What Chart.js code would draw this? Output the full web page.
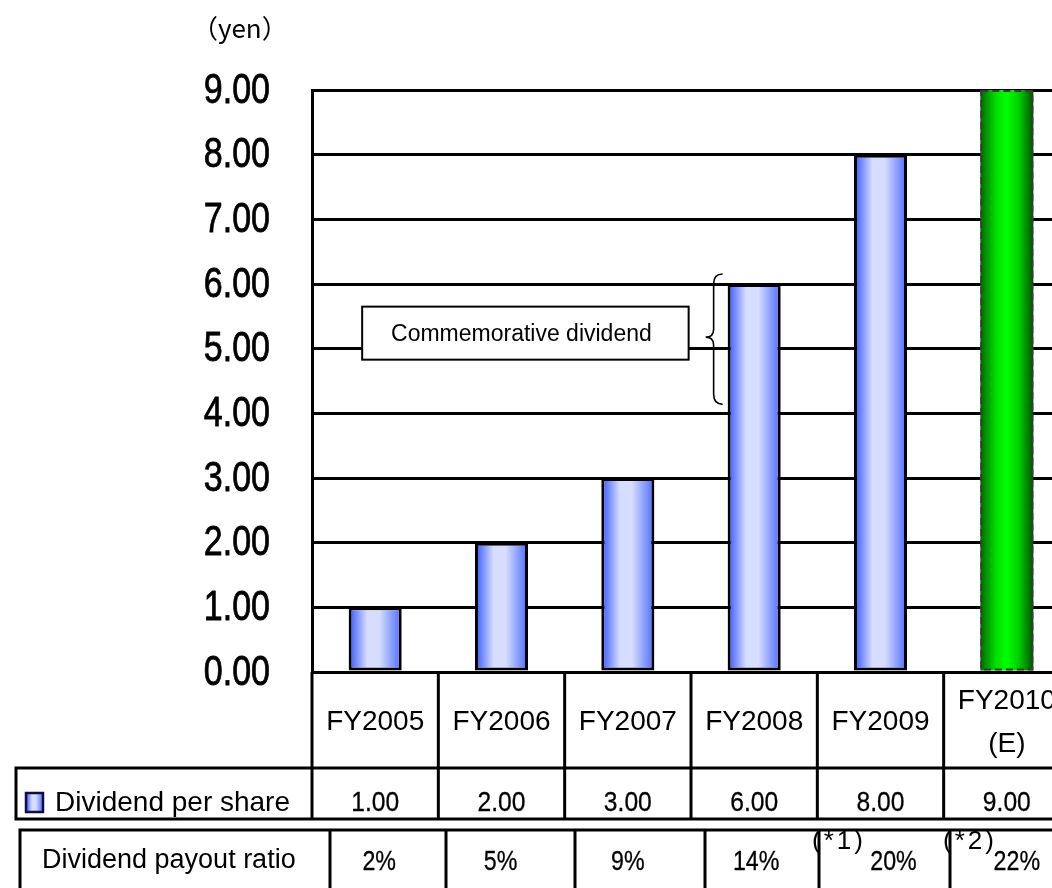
<!DOCTYPE html>
<html>
<head>
<meta charset="utf-8">
<script src="https://cdn.jsdelivr.net/npm/chart.js@4.4.1/dist/chart.umd.min.js"></script>
<style>
  html, body { margin: 0; padding: 0; background: #fff; overflow: hidden; }
  #wrap { position: absolute; left: 0; top: 0; width: 1070px; height: 888px; }
</style>
</head>
<body>
<div id="wrap"><canvas id="c" width="1070" height="888"></canvas></div>
<script>
// Fiscal years shown on the category axis
const categories = ['FY2005', 'FY2006', 'FY2007', 'FY2008', 'FY2009', ['FY2010', '(E)']];
// Dividend per share (yen)
const dividendPerShare = [1.00, 2.00, 3.00, 6.00, 8.00, 9.00];
// Dividend payout ratio (%)
const payoutRatio = [2, 5, 9, 14, 20, 22];
const payoutNotes = ['', '', '', '', '(*1)', '(*2)'];
// Forecast years get the green bar
const estimated = [false, false, false, false, false, true];
// Value ticks on the yen axis
const yTickValues = [0, 1, 2, 3, 4, 5, 6, 7, 8, 9];
// Commemorative portion of the FY2008 dividend
const commemorativeIndex = 3;
const commemorativeFrom = 4.0;
const commemorativeTo = 6.0;

const SANS = "'Liberation Sans', Arial, sans-serif";
const BAR_PCT = 0.42;
// column rules of the payout ratio table
const payoutCols = [20, 330, 446, 575, 705, 819, 950, 1070];
const payoutTextShift = [4, -1, 0, 2, 13, 10];

// text squeezed horizontally, for the narrow numeral style
function condensedText(ctx, text, x, y, size, squeeze, align, weight) {
  ctx.save();
  ctx.translate(x, y);
  ctx.scale(squeeze, 1);
  ctx.font = size + 'px ' + SANS;
  ctx.textAlign = align;
  ctx.textBaseline = 'middle';
  ctx.fillText(text, 0, 0);
  if (weight) {
    ctx.lineWidth = weight;
    ctx.strokeStyle = ctx.fillStyle;
    ctx.strokeText(text, 0, 0);
  }
  ctx.restore();
}

function blueGradient(ctx, x0, x1) {
  const g = ctx.createLinearGradient(x0, 0, x1, 0);
  g.addColorStop(0, '#3354ff');
  g.addColorStop(0.35, '#d6ddff');
  g.addColorStop(0.58, '#d6ddff');
  g.addColorStop(1, '#4c6bff');
  return g;
}
function greenGradient(ctx, x0, x1) {
  const g = ctx.createLinearGradient(x0, 0, x1, 0);
  g.addColorStop(0, '#006a00');
  g.addColorStop(0.3, '#00e000');
  g.addColorStop(0.5, '#00ff00');
  g.addColorStop(0.72, '#00d000');
  g.addColorStop(1, '#005400');
  return g;
}

function barFill(context) {
  const chart = context.chart;
  const xs = chart.scales.x;
  if (!chart.chartArea || !xs) return estimated[context.dataIndex] ? '#00ff00' : '#a0b0ff';
  const cx = xs.getPixelForValue(context.dataIndex);
  const bw = (xs.width / categories.length) * BAR_PCT;
  return estimated[context.dataIndex]
    ? greenGradient(chart.ctx, cx - bw / 2, cx + bw / 2)
    : blueGradient(chart.ctx, cx - bw / 2, cx + bw / 2);
}

const tablePlugin = {
  id: 'dividendTable',
  afterDatasetsDraw(chart) {
    const ctx = chart.ctx;
    const xs = chart.scales.x, ys = chart.scales.y;
    const meta = chart.getDatasetMeta(0);
    ctx.save();
    // dashed outline of the forecast bar
    meta.data.forEach((bar, i) => {
      if (!estimated[i]) return;
      const p = bar.getProps(['x', 'y', 'base', 'width'], true);
      ctx.setLineDash([7, 4]);
      ctx.strokeStyle = '#3a3a3a';
      ctx.lineWidth = 2;
      ctx.strokeRect(p.x - p.width / 2 + 1, p.y + 1, p.width - 2, p.base - p.y - 2);
      ctx.setLineDash([]);
    });

    // commemorative dividend callout
    const bar = meta.data[commemorativeIndex].getProps(['x', 'width'], true);
    const top = ys.getPixelForValue(commemorativeTo) - 10;
    const bottom = ys.getPixelForValue(commemorativeFrom) - 9;
    const mid = (top + bottom) / 2 - 2;
    const bx = bar.x - bar.width / 2 - 5;
    ctx.strokeStyle = '#000';
    ctx.lineWidth = 1.6;
    ctx.beginPath();
    ctx.moveTo(bx, top);
    ctx.quadraticCurveTo(bx - 9, top, bx - 9, top + 10);
    ctx.lineTo(bx - 9, mid - 8);
    ctx.quadraticCurveTo(bx - 9, mid, bx - 17, mid);
    ctx.quadraticCurveTo(bx - 9, mid, bx - 9, mid + 8);
    ctx.lineTo(bx - 9, bottom - 10);
    ctx.quadraticCurveTo(bx - 9, bottom, bx, bottom);
    ctx.stroke();

    const boxL = xs.getPixelForValue(0) - 13;
    const boxR = bx - 34;
    const boxT = ys.getPixelForValue(5.65);
    const boxB = ys.getPixelForValue(4.83);
    ctx.fillStyle = '#fff';
    ctx.fillRect(boxL, boxT, boxR - boxL, boxB - boxT);
    ctx.lineWidth = 2;
    ctx.strokeRect(boxL, boxT, boxR - boxL, boxB - boxT);
    ctx.fillStyle = '#000';
    ctx.font = '23px ' + SANS;
    ctx.textAlign = 'center';
    ctx.textBaseline = 'middle';
    ctx.fillText('Commemorative dividend', (boxL + boxR) / 2 - 4, (boxT + boxB) / 2 + 2);
    ctx.restore();
  },
  afterDraw(chart) {
    const ctx = chart.ctx;
    const xs = chart.scales.x, ys = chart.scales.y;
    const area = chart.chartArea;
    const colW = xs.width / categories.length;
    const rowTop = 768, rowBottom = 819, payTop = 830, H = chart.height;
    ctx.save();
    ctx.fillStyle = '#000';

    // yen axis labels, in the narrow numeral style
    ys.ticks.forEach(t => {
      condensedText(ctx, Number(t.value).toFixed(2), area.left - 42, ys.getPixelForValue(t.value) + 1, 42, 0.81, 'right', 0.8);
    });

    ctx.strokeStyle = '#000';
    ctx.lineWidth = 3;
    // category / dividend table rules
    ctx.beginPath();
    for (let i = 0; i <= categories.length; i++) {
      const x = area.left + colW * i;
      ctx.moveTo(x, area.bottom);
      ctx.lineTo(x, rowBottom);
    }
    ctx.moveTo(16, rowTop); ctx.lineTo(area.right, rowTop);
    ctx.moveTo(16, rowBottom); ctx.lineTo(area.right, rowBottom);
    ctx.moveTo(16, rowTop - 1.5); ctx.lineTo(16, rowBottom + 1.5);
    // payout ratio table rules
    ctx.moveTo(payoutCols[0] - 1.5, payTop); ctx.lineTo(area.right, payTop);
    payoutCols.forEach(x => { ctx.moveTo(x, payTop); ctx.lineTo(x, H); });
    ctx.stroke();

    ctx.textBaseline = 'middle';
    ctx.textAlign = 'center';
    ctx.font = '28px ' + SANS;
    categories.forEach((c, i) => {
      const cx = xs.getPixelForValue(i);
      if (Array.isArray(c)) {
        ctx.fillText(c[0], cx, 701);
        ctx.fillText(c[1], cx, 744);
      } else {
        ctx.fillText(c, cx, 722);
      }
      condensedText(ctx, dividendPerShare[i].toFixed(2), cx, 803, 28, 0.88, 'center', 0.3);
      condensedText(ctx, payoutRatio[i] + '%', cx + payoutTextShift[i], 863, 27, 0.86, 'center', 0.3);
    });

    // footnote markers
    ctx.textAlign = 'left';
    ctx.font = '26px ' + SANS;
    ctx.letterSpacing = '3px';
    payoutNotes.forEach((n, i) => {
      if (n) ctx.fillText(n, payoutCols[i + 1] - 7, 842);
    });
    ctx.letterSpacing = '0px';

    // legend swatch and row captions
    ctx.fillStyle = blueGradient(ctx, 26, 43);
    ctx.fillRect(26, 793, 17, 19);
    ctx.lineWidth = 2.5;
    ctx.strokeStyle = '#101040';
    ctx.strokeRect(26, 793, 17, 19);
    ctx.fillStyle = '#000';
    ctx.font = '28px ' + SANS;
    ctx.fillText('Dividend per share', 55, 803);
    ctx.font = '27px ' + SANS;
    ctx.fillText('Dividend payout ratio', 42, 861);

    // unit label
    ctx.font = "26px 'Noto Sans CJK JP', sans-serif";
    ctx.fillText('（yen）', 192, 28);
    ctx.restore();
  }
};

new Chart(document.getElementById('c'), {
  type: 'bar',
  data: {
    labels: categories,
    datasets: [{
      data: dividendPerShare,
      backgroundColor: barFill,
      borderColor: '#000',
      borderWidth: (c) => estimated[c.dataIndex] ? 0 : 3,
      borderSkipped: false,
      barPercentage: BAR_PCT,
      categoryPercentage: 1.0
    }]
  },
  options: {
    responsive: false,
    animation: false,
    devicePixelRatio: 1,
    layout: { padding: { top: 90, bottom: 216, left: 0, right: 0 } },
    plugins: { legend: { display: false }, tooltip: { enabled: false } },
    scales: {
      x: { display: false },
      y: {
        min: 0,
        max: 9,
        afterBuildTicks: (scale) => { scale.ticks = yTickValues.map(v => ({ value: v })); },
        afterFit: (scale) => { scale.width = 312; },
        ticks: { display: false },
        grid: { color: '#000', lineWidth: 3, drawTicks: false },
        border: { color: '#000', width: 3 }
      }
    }
  },
  plugins: [tablePlugin]
});
</script>
</body>
</html>
